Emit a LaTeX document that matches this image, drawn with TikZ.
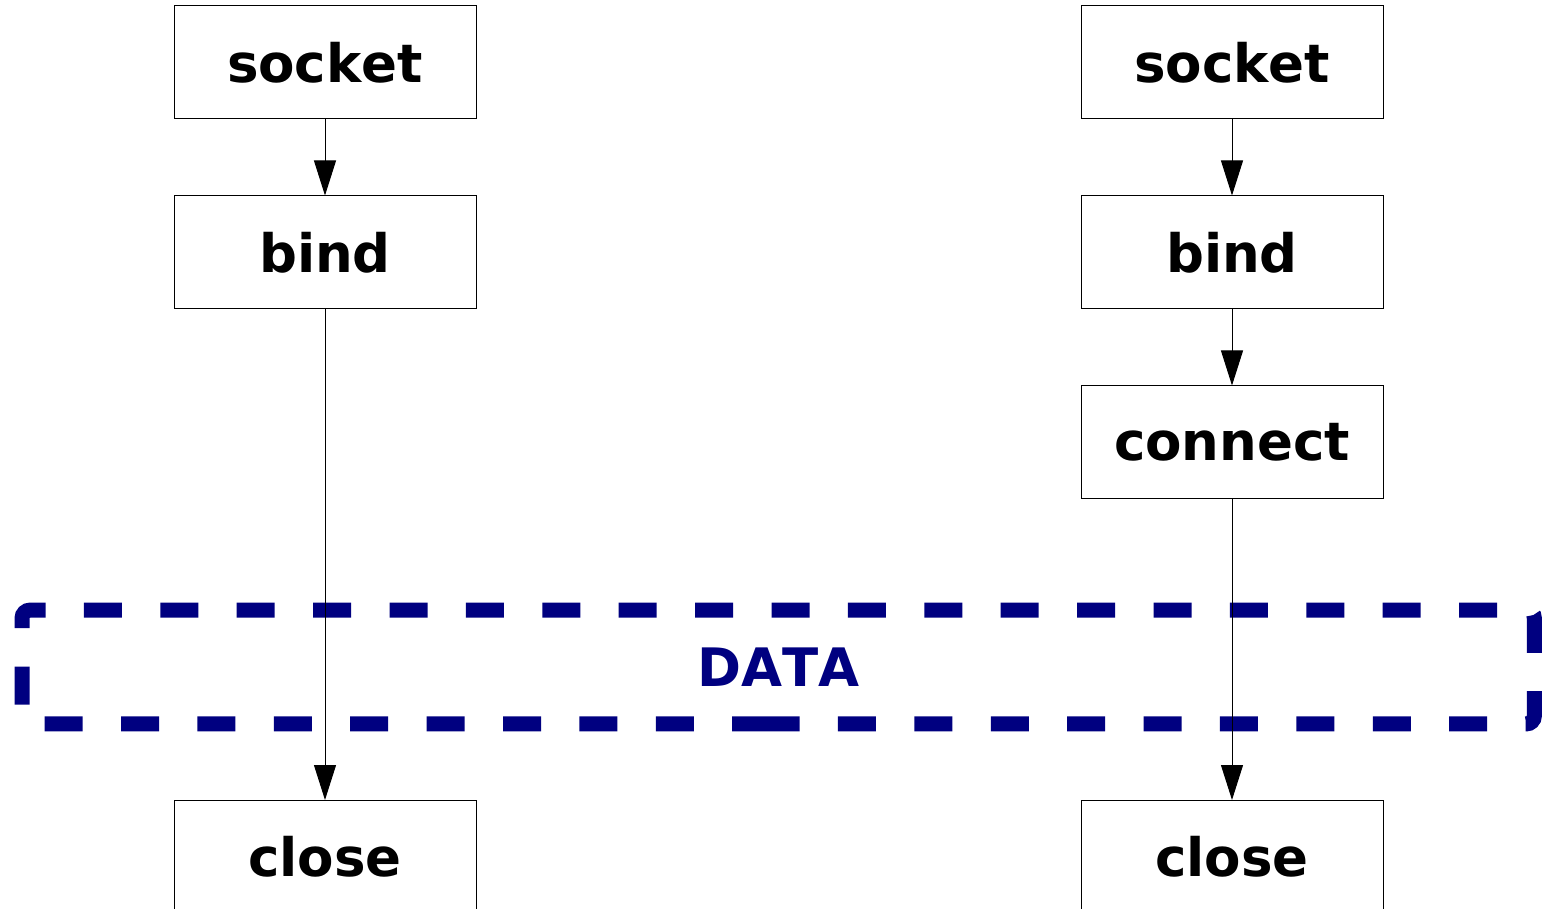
\documentclass[tikz,border=0pt]{standalone}
\usepackage{fontspec}
\setmainfont{DejaVu Sans}[Kerning=Off]
\usepackage{tikz}
\usetikzlibrary{arrows.meta, positioning, calc}

\begin{document}
\begin{tikzpicture}[
  font=\fontsize{26.5}{32}\selectfont\bfseries,
  >={Triangle[width=11pt, length=17.5pt]},
  call/.style={draw, line width=0.5pt, minimum width=151pt, minimum height=56.5pt, inner sep=0pt},
  arr/.style={->, line width=0.5pt},
  phase/.style={text=blue!50!black, minimum width=755.75pt, minimum height=56.5pt},
  phaseline/.style={draw=blue!50!black, line width=7.5pt, rounded corners=4pt,
    dash pattern=on 19pt off 19.2pt},
]
\useasboundingbox (0,0) rectangle (772pt,-454.5pt);

% server side
\node[call] (ssock) at (162.5pt,-31.25pt) {socket};
\node[call, below=38pt of ssock] (sbind) {bind};
% client side
\node[call] (csock) at (616pt,-31.25pt) {socket};
\node[call, below=38pt of csock] (cbind) {bind};
\node[call, below=38pt of cbind] (cconn) {connect};

% data exchange phase
\node[phase] (data) at (389.1pt,-333.5pt) {DATA};
\draw[phaseline] (data.south) -- (data.south west) -- (data.north west)
  -- (data.north east) -- (data.south east) -- cycle;

\node[call, anchor=north] (sclose) at (ssock.center |- 0,-400pt) {close};
\node[call, anchor=north] (cclose) at (csock.center |- 0,-400pt) {close};

\draw[arr] (ssock) -- (sbind);
\draw[arr] (sbind) -- (sclose);
\draw[arr] (csock) -- (cbind);
\draw[arr] (cbind) -- (cconn);
\draw[arr] (cconn) -- (cclose);
\end{tikzpicture}
\end{document}
